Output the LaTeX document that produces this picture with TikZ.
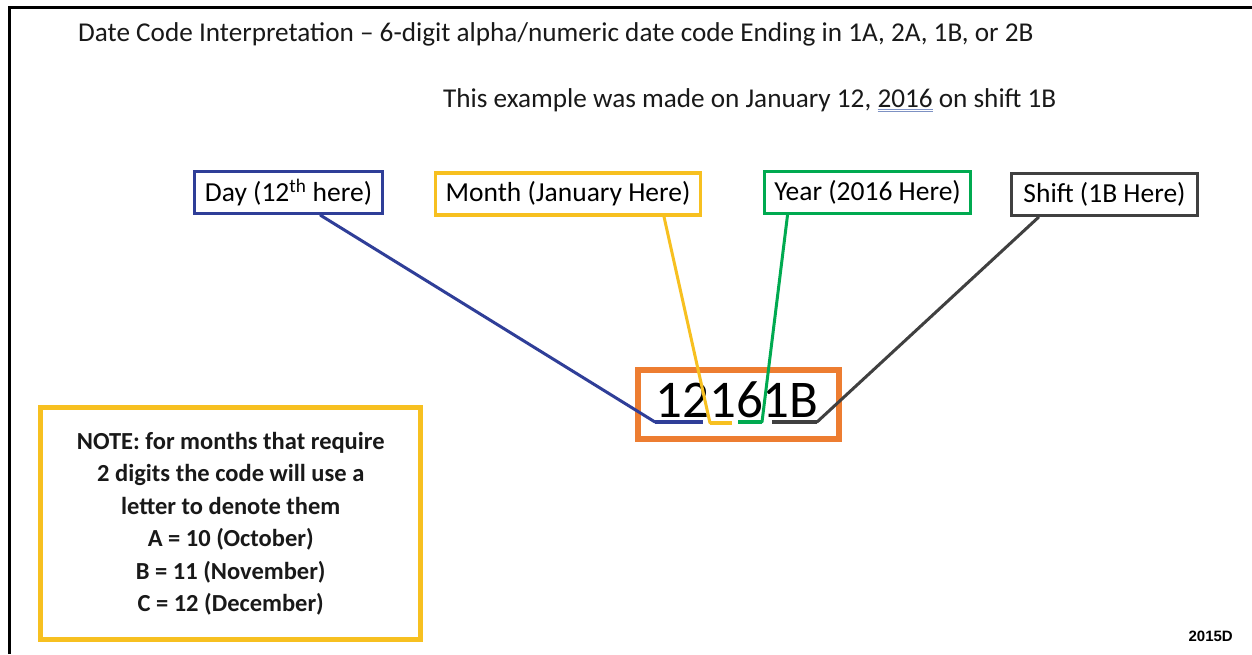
\documentclass[tikz,border=0pt]{standalone}
\usepackage{fontspec}
\setmainfont{Carlito}
\newfontfamily\arialfont{Liberation Sans}
\definecolor{cblue}{RGB}{47,62,152}
\definecolor{cgold}{RGB}{247,192,32}
\definecolor{cgreen}{RGB}{0,170,80}
\definecolor{cgray}{RGB}{64,64,64}
\definecolor{corange}{RGB}{237,125,49}
\definecolor{cunder}{RGB}{125,145,195}
\newcommand\dblul[1]{\setbox0\hbox{#1}\rlap{\color{cunder}\rule[-3pt]{\wd0}{0.9pt}}\rlap{\color{cunder}\rule[-5.2pt]{\wd0}{0.9pt}}\box0\relax}
\begin{document}
\begin{tikzpicture}[x=1pt,y=-1pt,
  lbl/.style={draw, line width=3.5pt, minimum height=42pt, inner sep=0pt,
    font=\fontsize{27.5}{32}\selectfont, text=black},
  conn/.style={line width=3pt, line join=round, line cap=round},
  uline/.style={line width=4.5pt},
  txt/.style={anchor=base west, inner sep=0pt, font=\fontsize{27.2}{32}\selectfont, text=black!90}]
\useasboundingbox (0,0) rectangle (1252,654);
\fill[white] (0,0) rectangle (1252,654);
\draw[line width=3pt] (9.5,654) -- (9.5,7.5) -- (1252,7.5);

\node[txt] (title) at (78,41) {Date Code Interpretation \textendash{} 6-digit alpha/numeric date code Ending in 1A, 2A, 1B, or 2B};
\node[txt] (example) at (443,107) {This example was made on January 12, \dblul{2016} on shift 1B};

\node[lbl, draw=cblue, minimum width=188pt] (day) at (288.5,192.5) {Day (12\textsuperscript{th} here)};
\node[lbl, draw=cgold, minimum width=265pt] (month) at (568,194) {Month (January Here)};
\node[lbl, draw=cgreen, minimum width=206pt] (year) at (867.5,192.5) {Year (2016 Here)};
\node[lbl, draw=cgray, minimum width=186pt] (shift) at (1104.5,194.5) {Shift (1B Here)};

\node[draw=corange, line width=6pt, minimum width=201pt, minimum height=69pt] (code) at (738.5,404.5) {};
\node[anchor=base, inner sep=0pt, font=\fontsize{53}{60}\selectfont] (codetext) at (737,417) {12161B};

\coordinate (b1) at (655,422); \coordinate (b2) at (703,422);
\coordinate (y1) at (710,423); \coordinate (y2) at (732,423);
\coordinate (g1) at (762,422); \coordinate (g2) at (738,422);
\coordinate (k1) at (817,422); \coordinate (k2) at (772,422);

\draw[conn, cblue] ([xshift=32pt]day.south) -- (b1);
\draw[uline, cblue] (b1) -- (b2);
\draw[conn, cgold] ([xshift=96pt]month.south) -- (y1);
\draw[uline, cgold] (y1) -- (y2);
\draw[conn, cgreen] ([xshift=-80pt]year.south) -- (g1);
\draw[uline, cgreen] (g1) -- (g2);
\draw[conn, cgray] ([xshift=-66pt]shift.south) -- (k1);
\draw[uline, cgray] (k1) -- (k2);

\node[draw=cgold, line width=5pt, minimum width=380pt, minimum height=232pt, align=center,
  font=\bfseries\fontsize{24.5}{32.5}\selectfont, text=black!90] (note) at (230.75,523.5)
  {NOTE: for months that require\\2 digits the code will use a\\letter to denote them\\A = 10 (October)\\B = 11 (November)\\C = 12 (December)};

\node[anchor=base east, inner sep=0pt, font=\arialfont\bfseries\fontsize{15}{18}\selectfont] (tag) at (1233,641) {2015D};
\end{tikzpicture}
\end{document}
